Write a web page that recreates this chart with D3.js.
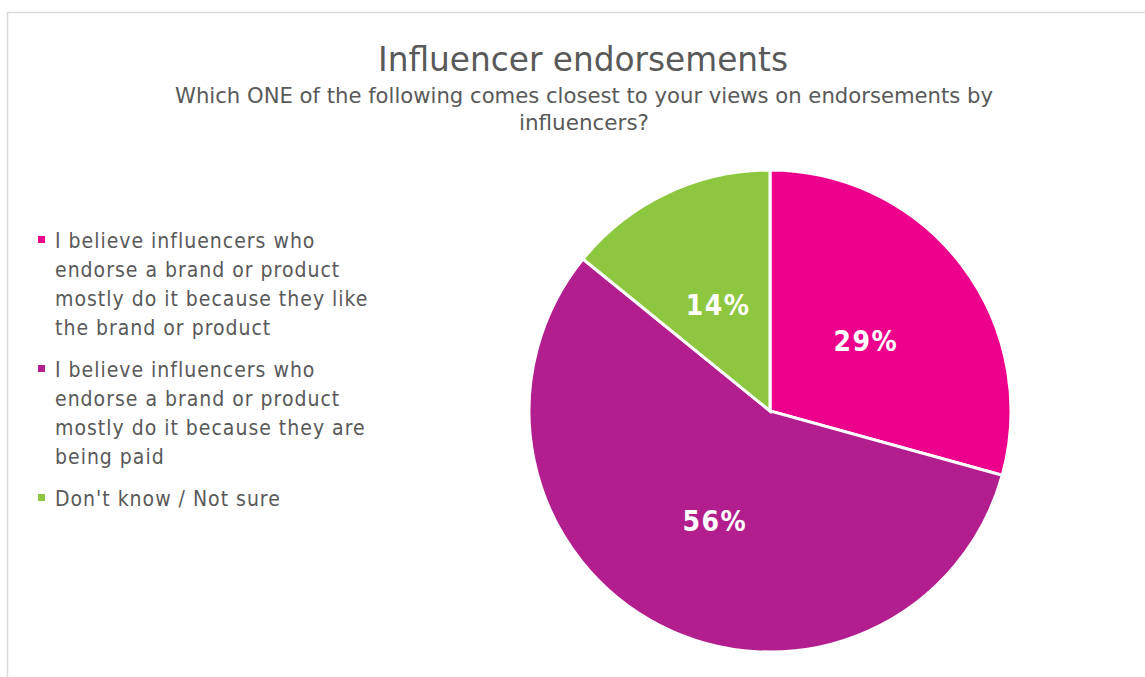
<!DOCTYPE html>
<html>
<head>
<meta charset="utf-8">
<script src="https://cdn.jsdelivr.net/npm/d3@7/dist/d3.min.js"></script>
<style>
  html, body { margin: 0; padding: 0; background: #fff; }
  svg { display: block; }
</style>
</head>
<body>
<svg id="chart" width="1145" height="677"></svg>
<script>
// Survey responses (percent)
const categories = [
  "I believe influencers who endorse a brand or product mostly do it because they like the brand or product",
  "I believe influencers who endorse a brand or product mostly do it because they are being paid",
  "Don't know / Not sure"
];
const legendLines = [
  ["I believe influencers who", "endorse a brand or product", "mostly do it because they like", "the brand or product"],
  ["I believe influencers who", "endorse a brand or product", "mostly do it because they are", "being paid"],
  ["Don't know / Not sure"]
];
const values = [29, 56, 14];
const colors = ["#EC008C", "#B31E8E", "#8DC63F"];

const titleText = "Influencer endorsements";
const subtitleLines = [
  "Which ONE of the following comes closest to your views on endorsements by",
  "influencers?"
];

const font = "Tahoma, 'DejaVu Sans Condensed', 'DejaVu Sans', sans-serif";
const svg = d3.select("#chart");

// chart frame
svg.append("rect")
  .attr("x", 7.5).attr("y", 12.5)
  .attr("width", 1200).attr("height", 700)
  .attr("fill", "#fff").attr("stroke", "#d9d9d9").attr("stroke-width", 1.5);

// title block
svg.append("text")
  .attr("x", 583).attr("y", 71)
  .attr("text-anchor", "middle")
  .attr("font-family", font).attr("font-size", 34)
  .attr("fill", "#595959")
  .attr("textLength", 410).attr("lengthAdjust", "spacingAndGlyphs")
  .text(titleText);

const subWidths = [818, 130];
subtitleLines.forEach((line, i) => {
  svg.append("text")
    .attr("x", 584).attr("y", 103 + i * 27)
    .attr("text-anchor", "middle")
    .attr("font-family", font).attr("font-size", 21)
    .attr("fill", "#595959")
    .attr("textLength", subWidths[i]).attr("lengthAdjust", "spacingAndGlyphs")
    .text(line);
});

// pie
const cx = 770, cy = 411, radius = 241;
const pie = d3.pie().sort(null).value(d => d);
const arcs = pie(values);
const arc = d3.arc().innerRadius(0).outerRadius(radius);
const labelArc = d3.arc().innerRadius(radius * 0.5).outerRadius(radius * 0.5);

const g = svg.append("g").attr("transform", `translate(${cx},${cy})`);
g.selectAll("path.slice")
  .data(arcs)
  .join("path")
  .attr("class", "slice")
  .attr("d", arc)
  .attr("fill", (d, i) => colors[i])
  .attr("stroke", "#fff")
  .attr("stroke-width", 3)
  .attr("stroke-linejoin", "miter");

g.selectAll("text.pct")
  .data(arcs)
  .join("text")
  .attr("class", "pct")
  .attr("transform", d => {
    const [x, y] = labelArc.centroid(d);
    return `translate(${x},${y + 3})`;
  })
  .attr("text-anchor", "middle")
  .attr("dy", "0.36em")
  .attr("font-family", font).attr("font-size", 28).attr("font-weight", "bold")
  .attr("letter-spacing", 1.5)
  .attr("fill", "#fff")
  .text(d => d.data + "%");

// legend
const legend = svg.append("g");
const lineH = 29;
const itemTops = [248, 377, 506];
legendLines.forEach((lines, i) => {
  const y0 = itemTops[i];
  legend.append("rect")
    .attr("x", 38).attr("y", y0 - 12)
    .attr("width", 7).attr("height", 7)
    .attr("fill", colors[i]);
  lines.forEach((ln, j) => {
    legend.append("text")
      .attr("x", 55).attr("y", y0 + j * lineH)
      .attr("font-family", font).attr("font-size", 21)
      .attr("letter-spacing", 1)
      .attr("fill", "#595959")
      .text(ln);
  });
});
</script>
</body>
</html>
